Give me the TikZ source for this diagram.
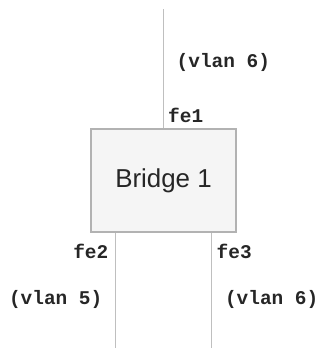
\documentclass[tikz,border=0pt]{standalone}
\usepackage{fontspec}
\setmainfont{Liberation Sans}
\setmonofont{Liberation Mono}
\begin{document}
\begin{tikzpicture}[x=1bp,y=-1bp,
  wire/.style={draw=black!25,line width=1.3bp},
  lbl/.style={inner sep=0pt,font=\ttfamily\bfseries\fontsize{19.5}{20}\selectfont,text=black!85},
  bridge/.style={draw=black!30,fill=black!4,line width=1.3bp,minimum width=145bp,minimum height=103bp,inner sep=0pt,font=\fontsize{26}{28}\selectfont,text=black!85}]
\useasboundingbox (0,0) rectangle (321,348);
\node[bridge] (b) at (163.5,180.5) {Bridge 1};
\coordinate (t) at (163.5,9);
\coordinate (l) at (115.5,348);
\coordinate (r) at (211.5,348);
\draw[wire] (t) -- (b.north -| t);
\draw[wire] (b.south -| l) -- (l);
\draw[wire] (b.south -| r) -- (r);
\node[lbl,anchor=west] (fe1) at (168,115.5) {fe1};
\node[lbl,anchor=west] (v6a) at (176.5,62) {(vlan 6)};
\node[lbl,anchor=east] (fe2) at (108.5,251) {fe2};
\node[lbl,anchor=west] (fe3) at (216.5,251) {fe3};
\node[lbl,anchor=east] (v5) at (102.5,299) {(vlan 5)};
\node[lbl,anchor=east] (v6b) at (318.5,299) {(vlan 6)};
\end{tikzpicture}
\end{document}
